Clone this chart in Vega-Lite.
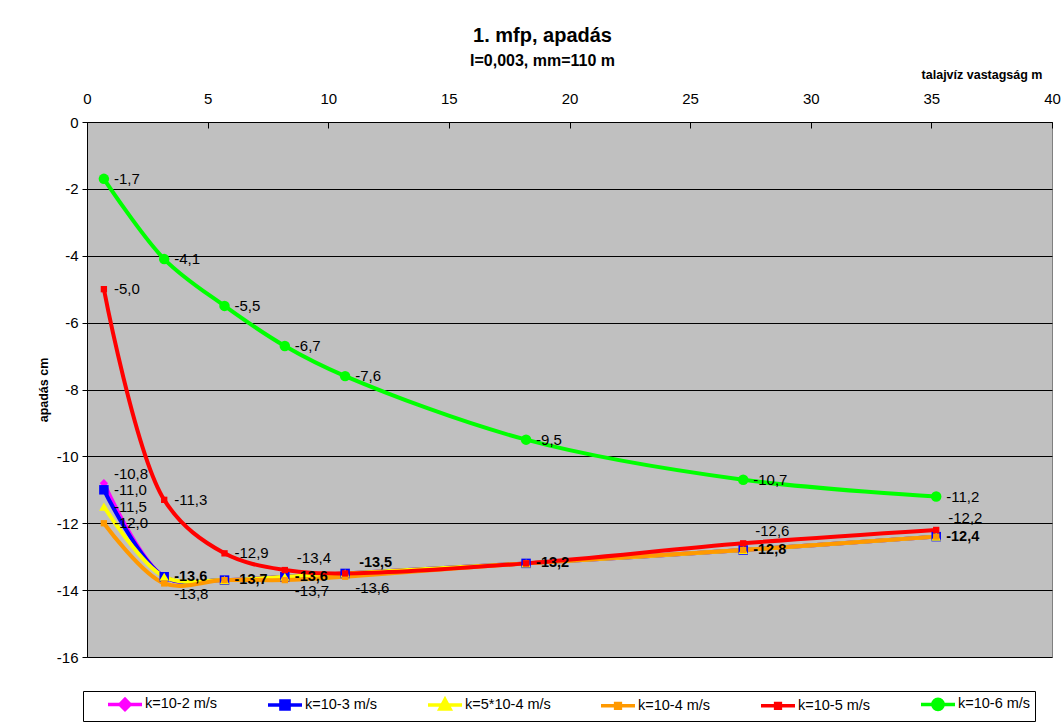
{
  "$schema": "https://vega.github.io/schema/vega-lite/v6.json",
  "width": 965,
  "height": 535,
  "autosize": {"type": "none"},
  "padding": {"left": 87, "top": 122, "right": 12, "bottom": 68},
  "background": "white",
  "config": {
    "locale": {"number": {"decimal": ",", "thousands": " ", "grouping": [3], "currency": ["", ""], "minus": "-"}},
    "font": "Liberation Sans",
    "view": {"fill": "#C0C0C0", "stroke": "#808080", "strokeWidth": 1}
  },
  "title": {
    "text": "1. mfp, apadás",
    "subtitle": "I=0,003, mm=110 m",
    "font": "Liberation Sans",
    "subtitleFont": "Liberation Sans",
    "fontSize": 20,
    "subtitleFontSize": 16,
    "fontWeight": "bold",
    "subtitleFontWeight": "bold",
    "color": "black",
    "subtitleColor": "black",
    "anchor": "middle",
    "frame": "group",
    "dx": -27,
    "offset": -1,
    "subtitlePadding": 7
  },
  "data": {
    "values": [
      {"s": "k=10-2 m/s", "x": 0.7, "y": -10.8},
      {"s": "k=10-2 m/s", "x": 3.2, "y": -13.6},
      {"s": "k=10-2 m/s", "x": 5.7, "y": -13.7},
      {"s": "k=10-2 m/s", "x": 8.2, "y": -13.6},
      {"s": "k=10-2 m/s", "x": 10.7, "y": -13.5},
      {"s": "k=10-2 m/s", "x": 18.2, "y": -13.2},
      {"s": "k=10-2 m/s", "x": 27.2, "y": -12.8},
      {"s": "k=10-2 m/s", "x": 35.2, "y": -12.4},
      {"s": "k=10-3 m/s", "x": 0.7, "y": -11.0},
      {"s": "k=10-3 m/s", "x": 3.2, "y": -13.6},
      {"s": "k=10-3 m/s", "x": 5.7, "y": -13.7},
      {"s": "k=10-3 m/s", "x": 8.2, "y": -13.6},
      {"s": "k=10-3 m/s", "x": 10.7, "y": -13.5},
      {"s": "k=10-3 m/s", "x": 18.2, "y": -13.2},
      {"s": "k=10-3 m/s", "x": 27.2, "y": -12.8},
      {"s": "k=10-3 m/s", "x": 35.2, "y": -12.4},
      {"s": "k=5*10-4 m/s", "x": 0.7, "y": -11.5},
      {"s": "k=5*10-4 m/s", "x": 3.2, "y": -13.6},
      {"s": "k=5*10-4 m/s", "x": 5.7, "y": -13.7},
      {"s": "k=5*10-4 m/s", "x": 8.2, "y": -13.6},
      {"s": "k=5*10-4 m/s", "x": 10.7, "y": -13.5},
      {"s": "k=5*10-4 m/s", "x": 18.2, "y": -13.2},
      {"s": "k=5*10-4 m/s", "x": 27.2, "y": -12.8},
      {"s": "k=5*10-4 m/s", "x": 35.2, "y": -12.4},
      {"s": "k=10-4 m/s", "x": 0.7, "y": -12.0},
      {"s": "k=10-4 m/s", "x": 3.2, "y": -13.8},
      {"s": "k=10-4 m/s", "x": 5.7, "y": -13.7},
      {"s": "k=10-4 m/s", "x": 8.2, "y": -13.7},
      {"s": "k=10-4 m/s", "x": 10.7, "y": -13.6},
      {"s": "k=10-4 m/s", "x": 18.2, "y": -13.2},
      {"s": "k=10-4 m/s", "x": 27.2, "y": -12.8},
      {"s": "k=10-4 m/s", "x": 35.2, "y": -12.4},
      {"s": "k=10-5 m/s", "x": 0.7, "y": -5.0},
      {"s": "k=10-5 m/s", "x": 3.2, "y": -11.3},
      {"s": "k=10-5 m/s", "x": 5.7, "y": -12.9},
      {"s": "k=10-5 m/s", "x": 8.2, "y": -13.4},
      {"s": "k=10-5 m/s", "x": 10.7, "y": -13.5},
      {"s": "k=10-5 m/s", "x": 18.2, "y": -13.2},
      {"s": "k=10-5 m/s", "x": 27.2, "y": -12.6},
      {"s": "k=10-5 m/s", "x": 35.2, "y": -12.2},
      {"s": "k=10-6 m/s", "x": 0.7, "y": -1.7},
      {"s": "k=10-6 m/s", "x": 3.2, "y": -4.1},
      {"s": "k=10-6 m/s", "x": 5.7, "y": -5.5},
      {"s": "k=10-6 m/s", "x": 8.2, "y": -6.7},
      {"s": "k=10-6 m/s", "x": 10.7, "y": -7.6},
      {"s": "k=10-6 m/s", "x": 18.2, "y": -9.5},
      {"s": "k=10-6 m/s", "x": 27.2, "y": -10.7},
      {"s": "k=10-6 m/s", "x": 35.2, "y": -11.2}
    ]
  },
  "encoding": {
    "x": {
      "field": "x",
      "type": "quantitative",
      "scale": {"domain": [0, 40], "nice": false, "zero": false},
      "axis": {
        "orient": "top",
        "values": [0, 5, 10, 15, 20, 25, 30, 35, 40],
        "format": "d",
        "grid": false,
        "title": "talajvíz vastagság m",
        "titleFont": "Liberation Sans",
        "titleFontSize": 12.5,
        "titleFontWeight": "bold",
        "titleColor": "black",
        "titleAnchor": "end",
        "titleAlign": "right",
        "titleBaseline": "alphabetic",
        "titleX": 955,
        "titleY": -44,
        "labelFont": "Liberation Sans",
        "labelFontSize": 15,
        "labelColor": "black",
        "labelPadding": 22,
        "tickSize": -6,
        "tickColor": "black",
        "domainColor": "black",
        "labelFlush": false
      }
    },
    "y": {
      "field": "y",
      "type": "quantitative",
      "scale": {"domain": [-16, 0], "nice": false},
      "axis": {
        "values": [-16, -14, -12, -10, -8, -6, -4, -2, 0],
        "format": "d",
        "grid": true,
        "gridColor": "black",
        "gridOpacity": 1,
        "gridWidth": 1,
        "title": "apadás cm",
        "titleFont": "Liberation Sans",
        "titleFontSize": 12.5,
        "titleFontWeight": "bold",
        "titleColor": "black",
        "titlePadding": 6,
        "labelFont": "Liberation Sans",
        "labelFontSize": 15,
        "labelColor": "black",
        "labelPadding": 4,
        "tickSize": 5,
        "tickColor": "black",
        "domainColor": "black"
      }
    },
    "color": {
      "field": "s",
      "type": "nominal",
      "scale": {
        "domain": ["k=10-2 m/s", "k=10-3 m/s", "k=5*10-4 m/s", "k=10-4 m/s", "k=10-5 m/s", "k=10-6 m/s"],
        "range": ["#FF00FF", "#0000FF", "#FFFF00", "#FF9900", "#FF0000", "#00FF00"]
      },
      "legend": {
        "orient": "none",
        "legendX": -4,
        "legendY": 569,
        "direction": "horizontal",
        "columns": 6,
        "title": " ",
        "titleOrient": "left",
        "titlePadding": 29,
        "titleFontSize": 8,
        "strokeColor": "black",
        "fillColor": "white",
        "padding": 4,
        "labelFont": "Liberation Sans",
        "labelFontSize": 14.5,
        "labelColor": "black",
        "labelOffset": 11,
        "columnPadding": 42,
        "symbolType": "M-2.5,0L2.5,0",
        "symbolSize": 185,
        "symbolStrokeWidth": 4,
        "encode": {
          "symbols": {
            "update": {
              "shape": {"signal": "datum.value == 'k=10-2 m/s' ? 'M-2.5,0L2.5,0M0,-0.75L0.75,0L0,0.75L-0.75,0Z' : datum.value == 'k=10-3 m/s' ? 'M-2.5,0L2.5,0M-0.6,-0.6L0.6,-0.6L0.6,0.6L-0.6,0.6Z' : datum.value == 'k=5*10-4 m/s' ? 'M-2.5,0L2.5,0M0,-0.8L0.75,0.6L-0.75,0.6Z' : datum.value == 'k=10-6 m/s' ? 'M-2.5,0L2.5,0M0,-0.75A0.75,0.75 0 1,1 0,0.75A0.75,0.75 0 1,1 0,-0.75Z' : 'M-2.5,0L2.5,0M-0.35,-0.35L0.35,-0.35L0.35,0.35L-0.35,0.35Z'"},
              "fill": {"signal": "scale('color', datum.value)"},
              "stroke": {"signal": "scale('color', datum.value)"},
              "fillOpacity": {"value": 1},
              "strokeWidth": {"value": 3.5},
              "opacity": {"value": 1}
            }
          }
        }
      }
    }
  },
  "layer": [
    {"mark": {"type": "line", "interpolate": "catmull-rom", "strokeWidth": 4}},
    {
      "transform": [{"filter": "datum.s == 'k=10-2 m/s'"}],
      "mark": {"type": "point", "filled": true, "opacity": 1, "shape": "diamond", "size": 70}
    },
    {
      "transform": [{"filter": "datum.s == 'k=10-3 m/s'"}],
      "mark": {"type": "point", "filled": true, "opacity": 1, "shape": "square", "size": 90}
    },
    {
      "transform": [{"filter": "datum.s == 'k=5*10-4 m/s'"}],
      "mark": {"type": "point", "filled": true, "opacity": 1, "shape": "triangle-up", "size": 90}
    },
    {
      "transform": [{"filter": "datum.s == 'k=10-4 m/s'"}],
      "mark": {"type": "point", "filled": true, "opacity": 1, "shape": "square", "size": 40}
    },
    {
      "transform": [{"filter": "datum.s == 'k=10-5 m/s'"}],
      "mark": {"type": "point", "filled": true, "opacity": 1, "shape": "square", "size": 40}
    },
    {
      "transform": [{"filter": "datum.s == 'k=10-6 m/s'"}],
      "mark": {"type": "point", "filled": true, "opacity": 1, "shape": "circle", "size": 110}
    },
    {
      "transform": [{"filter": "datum.s == 'k=10-6 m/s' || (datum.s == 'k=10-5 m/s' && datum.x < 6) || (datum.x == 0.7 && (datum.s == 'k=10-3 m/s' || datum.s == 'k=5*10-4 m/s' || datum.s == 'k=10-4 m/s'))"}],
      "mark": {"type": "text", "align": "left", "baseline": "middle", "dx": 10, "fontSize": 15, "font": "Liberation Sans"},
      "encoding": {"text": {"field": "y", "type": "quantitative", "format": ".1f"}, "color": {"value": "black"}}
    },
    {
      "transform": [{"filter": "datum.s == 'k=10-5 m/s' && datum.x > 8 && datum.x != 10.7 && datum.x != 18.2"}],
      "mark": {"type": "text", "align": "left", "baseline": "middle", "dx": 12, "dy": -12, "fontSize": 15, "font": "Liberation Sans"},
      "encoding": {"text": {"field": "y", "type": "quantitative", "format": ".1f"}, "color": {"value": "black"}}
    },
    {
      "transform": [{"filter": "datum.s == 'k=10-2 m/s' && datum.x == 0.7"}],
      "mark": {"type": "text", "align": "left", "baseline": "middle", "dx": 10, "dy": -9, "fontSize": 15, "font": "Liberation Sans"},
      "encoding": {"text": {"field": "y", "type": "quantitative", "format": ".1f"}, "color": {"value": "black"}}
    },
    {
      "transform": [{"filter": "datum.s == 'k=10-4 m/s' && (datum.x == 3.2 || datum.x == 8.2 || datum.x == 10.7)"}],
      "mark": {"type": "text", "align": "left", "baseline": "middle", "dx": 10, "dy": 11, "fontSize": 15, "font": "Liberation Sans"},
      "encoding": {"text": {"field": "y", "type": "quantitative", "format": ".1f"}, "color": {"value": "black"}}
    },
    {
      "transform": [{"filter": "datum.s == 'k=10-3 m/s' && datum.x > 1 && datum.x != 10.7"}],
      "mark": {"type": "text", "align": "left", "baseline": "middle", "dx": 10, "fontSize": 14.5, "fontWeight": "bold", "font": "Liberation Sans"},
      "encoding": {"text": {"field": "y", "type": "quantitative", "format": ".1f"}, "color": {"value": "black"}}
    },
    {
      "transform": [{"filter": "datum.s == 'k=10-3 m/s' && datum.x == 10.7"}],
      "mark": {"type": "text", "align": "left", "baseline": "middle", "dx": 14, "dy": -10, "fontSize": 14.5, "fontWeight": "bold", "font": "Liberation Sans"},
      "encoding": {"text": {"field": "y", "type": "quantitative", "format": ".1f"}, "color": {"value": "black"}}
    }
  ]
}
